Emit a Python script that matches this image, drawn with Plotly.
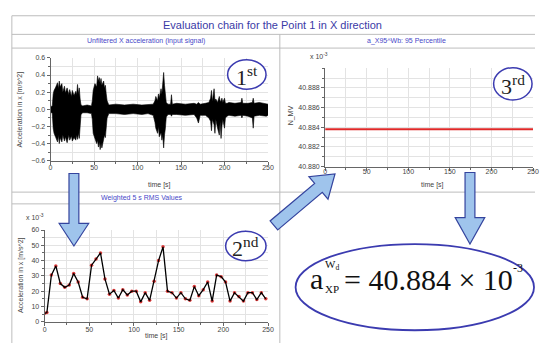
import plotly.graph_objects as go

W, H = 541, 346
def px(x):
    return x / W
def py(y):
    return 1 - y / H

# ---------------- data ----------------
# Panel 1: envelope (max / min) of the unfiltered X acceleration signal [m/s^2]
sig_t = [0, 2, 3, 4, 6, 8, 9, 10, 11, 13, 14, 16, 17, 19, 21, 22, 24, 25, 27, 29,
         30, 31, 32, 33, 34, 35, 37, 42, 47, 48, 49, 51, 53, 54, 55, 56, 57, 58, 59, 61,
         62, 63, 64, 65, 67, 75, 85, 95, 105, 112, 118, 120, 121, 123, 124, 125, 127, 128, 129, 130,
         131, 132, 133, 135, 138, 139, 140, 145, 155, 165, 168, 170, 172, 178, 182, 184, 185, 186, 188, 189,
         190, 192, 194, 195, 196, 197, 198, 200, 201, 203, 205, 212, 219, 220, 221, 227, 232, 233, 234, 240,
         248, 250]
sig_hi = [0.03, 0.04, 0.18, 0.22, 0.26, 0.31, 0.24, 0.33, 0.26, 0.30, 0.20, 0.27, 0.19, 0.25, 0.17, 0.23, 0.15, 0.22, 0.16, 0.21,
          0.17, 0.29, 0.18, 0.25, 0.12, 0.05, 0.04, 0.05, 0.04, 0.10, 0.22, 0.30, 0.26, 0.39, 0.33, 0.37, 0.30, 0.36, 0.28, 0.33,
          0.25, 0.28, 0.18, 0.10, 0.05, 0.06, 0.05, 0.06, 0.05, 0.06, 0.06, 0.10, 0.15, 0.10, 0.18, 0.13, 0.24, 0.18, 0.30, 0.43,
          0.28, 0.20, 0.08, 0.06, 0.06, 0.17, 0.06, 0.07, 0.06, 0.07, 0.06, 0.08, 0.06, 0.07, 0.08, 0.13, 0.22, 0.09, 0.24, 0.10,
          0.12, 0.08, 0.15, 0.09, 0.10, 0.13, 0.08, 0.13, 0.07, 0.07, 0.08, 0.07, 0.08, 0.13, 0.07, 0.07, 0.08, 0.13, 0.07, 0.08,
          0.07, 0.06]
sig_lo = [-0.03, -0.05, -0.22, -0.28, -0.33, -0.38, -0.30, -0.40, -0.33, -0.38, -0.30, -0.37, -0.32, -0.39, -0.30, -0.36, -0.31, -0.37, -0.33, -0.36,
          -0.30, -0.35, -0.28, -0.34, -0.20, -0.06, -0.04, -0.04, -0.05, -0.12, -0.28, -0.34, -0.40, -0.36, -0.44, -0.38, -0.47, -0.40, -0.45, -0.36,
          -0.30, -0.33, -0.22, -0.10, -0.05, -0.05, -0.06, -0.05, -0.06, -0.05, -0.07, -0.15, -0.22, -0.28, -0.20, -0.32, -0.27, -0.36, -0.30, -0.45,
          -0.30, -0.22, -0.09, -0.06, -0.06, -0.08, -0.06, -0.06, -0.07, -0.06, -0.10, -0.16, -0.07, -0.07, -0.10, -0.14, -0.25, -0.12, -0.18, -0.28,
          -0.12, -0.22, -0.30, -0.14, -0.34, -0.20, -0.12, -0.22, -0.10, -0.08, -0.07, -0.08, -0.07, -0.10, -0.07, -0.08, -0.10, -0.22, -0.08, -0.07,
          -0.08, -0.07]

# Panel 2: weighted 5 s RMS values (x 10^-3 m/s^2)
rms_t = [0, 2.5, 7.5, 12.5, 17.5, 22.5, 27.5, 32.5, 37.5, 42.5, 47.5, 52.5, 57.5, 62.5, 67.5, 72.5, 77.5,
         82.5, 87.5, 92.5, 97.5, 102.5, 107.5, 112.5, 117.5, 122.5, 127.5, 132.5, 137.5, 142.5, 147.5, 152.5,
         157.5, 162.5, 167.5, 172.5, 177.5, 182.5, 187.5, 192.5, 197.5, 202.5, 207.5, 212.5, 217.5, 222.5,
         227.5, 232.5, 237.5, 242.5, 247.5]
rms_v = [5.5, 6, 30.5, 36.5, 25, 22.5, 24, 31.5, 26, 16, 15, 37, 41, 45, 28, 18, 20.5,
         15.5, 21, 17.5, 20, 20, 13, 19, 14, 26.5, 40, 49, 20, 19, 15.5, 19,
         15, 14, 23, 17, 21, 26, 13.5, 30.5, 29.5, 26, 13.5, 19, 16.5, 13.5,
         19, 19, 14.5, 19, 15]

# Panel 3: 95 percentile (x 10^-3)
pct_t = [0, 250]
pct_v = [40.8838, 40.8838]
result_value = "40.884"

# ---------------- styles ----------------
FONT = "Liberation Sans"
SERIF = "Liberation Serif"
GRID = "#e3e3e3"
AXC = "#666666"
TICKF = dict(family=FONT, size=7, color="#444444")
BLUE_T = "#3a3aa6"
FRAME = "#bdbdbd"
ARROW_FILL = "#9fc4ec"
ARROW_LINE = "#34449e"
CIRC = "#3b3bb0"

fig = go.Figure()

fig.add_trace(go.Scatter(
    x=sig_t + sig_t[::-1], y=sig_hi + sig_lo[::-1],
    mode="lines", fill="toself", fillcolor="black",
    line=dict(color="black", width=0.6), xaxis="x", yaxis="y", hoverinfo="skip"))

fig.add_trace(go.Scatter(
    x=rms_t, y=rms_v, mode="markers",
    marker=dict(color="#e03a3a", size=3.5), xaxis="x3", yaxis="y3"))
fig.add_trace(go.Scatter(
    x=rms_t, y=rms_v, mode="lines",
    line=dict(color="black", width=1.3), xaxis="x3", yaxis="y3"))

fig.add_trace(go.Scatter(
    x=pct_t, y=pct_v, mode="lines",
    line=dict(color="#e02828", width=2.2), xaxis="x2", yaxis="y2"))


def ax(domain, anchor, rng, dtick, mdtick, standoff=0):
    return dict(domain=domain, anchor=anchor, range=rng, dtick=dtick, tick0=0,
                showgrid=True, gridcolor=GRID, gridwidth=1, zeroline=False,
                showline=True, linecolor=AXC, linewidth=1,
                ticks="outside", ticklen=3, tickcolor=AXC, tickfont=TICKF,
                ticklabeloverflow="allow", ticklabelstandoff=standoff,
                minor=dict(dtick=mdtick, tick0=0, showgrid=True, gridcolor=GRID,
                           ticks="outside", ticklen=2, tickcolor=AXC),
                fixedrange=True)


fig.update_layout(
    width=W, height=H, autosize=False,
    margin=dict(l=0, r=0, t=0, b=0),
    paper_bgcolor="white", plot_bgcolor="white",
    showlegend=False,
    xaxis=ax([px(49.3), px(270)], "y", [0, 250], 50, 25, -3),
    yaxis=dict(ax([py(160), py(55)], "x", [-0.6, 0.6], 0.2, 0.1), tickformat=".1f", tick0=-0.6,
               minor=dict(dtick=0.1, tick0=-0.6, showgrid=True, gridcolor=GRID, ticks="outside", ticklen=2, tickcolor=AXC)),
    xaxis2=ax([px(328), px(539)], "y2", [0, 250], 50, 25, -5),
    yaxis2=dict(ax([py(166), py(65.6)], "x2", [40.880, 40.890], 0.002, 0.001),
                tickvals=[40.880, 40.882, 40.884, 40.886, 40.888], tickformat=".3f",
                minor=dict(dtick=0.001, tick0=40.880, showgrid=True, gridcolor=GRID, ticks="outside", ticklen=2, tickcolor=AXC)),
    xaxis3=ax([px(43.3), px(270)], "y3", [0, 250], 50, 25, -2),
    yaxis3=ax([py(324.3), py(230.7)], "x3", [0, 60], 10, 5),
)

shapes = []
def hline(y, x0, x1):
    shapes.append(dict(type="line", xref="paper", yref="paper", x0=px(x0), x1=px(x1), y0=py(y), y1=py(y),
                       line=dict(color=FRAME, width=1)))
def vline(x, y0, y1):
    shapes.append(dict(type="line", xref="paper", yref="paper", x0=px(x), x1=px(x), y0=py(y0), y1=py(y1),
                       line=dict(color=FRAME, width=1)))

hline(12, 10, 541)
hline(31, 10, 541)
hline(45, 10, 541)
hline(192, 10, 541)
hline(204, 10, 282)
vline(10, 12, 346)
vline(282, 31, 346)


def poly(points):
    d = "M " + " L ".join(f"{px(x):.5f},{py(y):.5f}" for x, y in points) + " Z"
    shapes.append(dict(type="path", xref="paper", yref="paper", path=d,
                       fillcolor=ARROW_FILL, line=dict(color=ARROW_LINE, width=1.2)))


def down_arrow(cx, y_top, y_head, y_tip, shaft_hw, head_hw):
    poly([(cx - shaft_hw, y_top), (cx + shaft_hw, y_top), (cx + shaft_hw, y_head),
          (cx + head_hw, y_head), (cx, y_tip), (cx - head_hw, y_head), (cx - shaft_hw, y_head)])


def diag_arrow(tail, tip, shaft_hw, head_hw, head_len):
    dx, dy = tip[0] - tail[0], tip[1] - tail[1]
    L = (dx * dx + dy * dy) ** 0.5
    ux, uy = dx / L, dy / L
    nx, ny = -uy, ux
    bx, by = tip[0] - head_len * ux, tip[1] - head_len * uy
    poly([(tail[0] + shaft_hw * nx, tail[1] + shaft_hw * ny),
          (bx + shaft_hw * nx, by + shaft_hw * ny),
          (bx + head_hw * nx, by + head_hw * ny),
          tip,
          (bx - head_hw * nx, by - head_hw * ny),
          (bx - shaft_hw * nx, by - shaft_hw * ny),
          (tail[0] - shaft_hw * nx, tail[1] - shaft_hw * ny)])


down_arrow(73, 173, 224, 247, 5, 15)
diag_arrow((276, 226), (338, 173.5), 6, 15, 22)
down_arrow(475, 172, 218, 245, 5, 15)


def ellipse(cx, cy, rx, ry, fill, width):
    shapes.append(dict(type="circle", xref="paper", yref="paper",
                       x0=px(cx - rx), x1=px(cx + rx), y0=py(cy + ry), y1=py(cy - ry),
                       fillcolor=fill, line=dict(color=CIRC, width=width)))


ellipse(248.5, 72, 19.5, 15, "white", 1.5)
ellipse(247.5, 247, 20.5, 15, "white", 1.5)
ellipse(518.5, 81.5, 19.5, 16.5, "white", 1.5)
ellipse(419, 289, 121, 44, "rgba(0,0,0,0)", 1.8)

fig.update_layout(shapes=shapes)

ann = []
def text(x, y, s, size, color="#333333", family=FONT, angle=0, xanchor="center"):
    ann.append(dict(xref="paper", yref="paper", x=px(x), y=py(y), text=s, showarrow=False,
                    font=dict(family=family, size=size, color=color), textangle=angle,
                    xanchor=xanchor, yanchor="middle"))

text(275, 21, "Evaluation chain for the Point 1 in X direction", 11, BLUE_T)
text(146, 38, "Unfiltered X acceleration (input signal)", 7, "#4848c8")
text(411, 38, "a_X95^Wb: 95 Percentile", 7, "#4848c8")
text(142, 198, "Weighted 5 s RMS Values", 7, "#4848c8")

text(160, 185, "time [s]", 7, "#444444")
text(437, 185, "time [s]", 7, "#444444")
text(157, 339, "time [s]", 7, "#444444")

text(18, 108, "Acceleration in x [m/s^2]", 7, "#444444", angle=-90)
text(20, 277, "Acceleration in x [m/s^2]", 7, "#444444", angle=-90)
text(293, 114, "N_MV", 7, "#444444", angle=-90)

text(34, 217, "x 10<sup>-3</sup>", 7, "#444444")
text(322, 53, "x 10<sup>-3</sup>", 7, "#444444")

text(248.5, 73, "1<sup>st</sup>", 22, "#222222", SERIF)
text(247.5, 248, "2<sup>nd</sup>", 22, "#222222", SERIF)
text(518.5, 82.5, "3<sup>rd</sup>", 22, "#222222", SERIF)

# formula
text(319, 280.5, "a", 30, "#111111", SERIF)
text(334.5, 266, "W<sub>d</sub>", 11, "#111111", SERIF)
text(335, 291, "XP", 11, "#111111", SERIF)
text(345, 281, "= " + result_value + " × 10", 30, "#111111", SERIF, xanchor="left")
text(524, 269, "-3", 12, "#111111", SERIF)

fig.update_layout(annotations=ann)

fig.write_html("out.html", config={"displayModeBar": False},
               post_script="document.body.style.margin='0px';document.body.style.overflow='hidden';")
